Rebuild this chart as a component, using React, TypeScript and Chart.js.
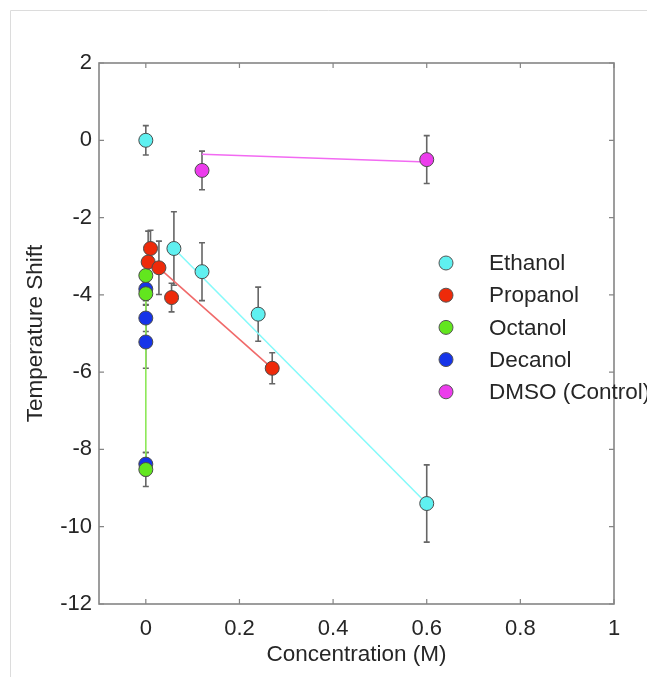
import React, { useEffect, useRef } from "react";
import { Chart, registerables } from "chart.js";

Chart.register(...registerables);

// ---- data ----
const xTicks = [0, 0.2, 0.4, 0.6, 0.8, 1];
const yTicks = [2, 0, -2, -4, -6, -8, -10, -12];

const ethanolX = [0, 0.06, 0.12, 0.24, 0.6];
const ethanolY = [0, -2.8, -3.4, -4.5, -9.4];
const ethanolErr = [0.38, 0.95, 0.75, 0.7, 1.0];
const ethanolFitX = [0.06, 0.6];
const ethanolFitY = [-2.8, -9.4];

const propanolX = [0.01, 0.005, 0.028, 0.055, 0.27];
const propanolY = [-2.8, -3.15, -3.3, -4.07, -5.9];
const propanolErr = [0.47, 0.8, 0.69, 0.37, 0.4];
const propanolFitX = [0.028, 0.27];
const propanolFitY = [-3.3, -5.9];

const octanolX = [0, 0, 0];
const octanolY = [-3.5, -3.97, -8.52];
const octanolErr = [0.3, 0.3, 0.44];
const octanolFitX = [0, 0];
const octanolFitY = [-3.5, -8.5];

const decanolX = [0, 0, 0, 0];
const decanolY = [-3.85, -4.6, -5.22, -8.38];
const decanolErr = [0.3, 0.35, 0.68, 0.3];

const dmsoX = [0.12, 0.6];
const dmsoY = [-0.78, -0.5];
const dmsoErr = [0.5, 0.62];
const dmsoFitX = [0.12, 0.6];
const dmsoFitY = [-0.36, -0.56];

const seriesNames = ["Ethanol", "Propanol", "Octanol", "Decanol", "DMSO (Control)"];

const FONT = '"Liberation Sans", Arial, Helvetica, sans-serif';

const toPts = (xs: number[], ys: number[]) => xs.map((x, i) => ({ x, y: ys[i] }));

const decorPlugin = {
  id: "decor",
  beforeDraw(chart: any) {
    const { ctx, width, height } = chart;
    ctx.save();
    ctx.strokeStyle = "#dcdcdc";
    ctx.lineWidth = 1;
    ctx.beginPath();
    ctx.moveTo(10.5, height);
    ctx.lineTo(10.5, 10.5);
    ctx.lineTo(width, 10.5);
    ctx.stroke();
    ctx.restore();
  },
  beforeDatasetsDraw(chart: any) {
    const { ctx, scales } = chart;
    const xs = scales.x;
    const ys = scales.y;
    ctx.save();
    ctx.strokeStyle = "#666666";
    ctx.lineWidth = 1.6;
    chart.data.datasets.forEach((ds: any) => {
      if (!ds.errors) return;
      ds.data.forEach((p: any, i: number) => {
        const e = ds.errors[i];
        const px = xs.getPixelForValue(p.x);
        const y1 = ys.getPixelForValue(p.y + e);
        const y2 = ys.getPixelForValue(p.y - e);
        ctx.beginPath();
        ctx.moveTo(px, y1);
        ctx.lineTo(px, y2);
        ctx.moveTo(px - 3, y1);
        ctx.lineTo(px + 3, y1);
        ctx.moveTo(px - 3, y2);
        ctx.lineTo(px + 3, y2);
        ctx.stroke();
      });
    });
    ctx.restore();
  },
  afterDatasetsDraw(chart: any) {
    const { ctx, chartArea: a, scales } = chart;
    ctx.save();
    // axes box
    ctx.strokeStyle = "#858585";
    ctx.lineWidth = 1.6;
    ctx.strokeRect(a.left, a.top, a.right - a.left, a.bottom - a.top);
    // inward ticks
    const tl = 5;
    ctx.lineWidth = 1.2;
    ctx.beginPath();
    scales.x.ticks.forEach((t: any) => {
      const px = scales.x.getPixelForValue(t.value);
      ctx.moveTo(px, a.bottom);
      ctx.lineTo(px, a.bottom - tl);
      ctx.moveTo(px, a.top);
      ctx.lineTo(px, a.top + tl);
    });
    scales.y.ticks.forEach((t: any) => {
      const py = scales.y.getPixelForValue(t.value);
      ctx.moveTo(a.left, py);
      ctx.lineTo(a.left + tl, py);
      ctx.moveTo(a.right, py);
      ctx.lineTo(a.right - tl, py);
    });
    ctx.stroke();

    // legend
    const legendItems = chart.data.datasets.filter((d: any) => d.legendLabel);
    legendItems.sort((p: any, q: any) => p.legendIndex - q.legendIndex);
    const mx = a.left + 347;
    let my = a.top + 200;
    ctx.font = `22.5px ${FONT}`;
    ctx.textBaseline = "middle";
    ctx.textAlign = "left";
    legendItems.forEach((d: any) => {
      ctx.beginPath();
      ctx.arc(mx, my, 7, 0, Math.PI * 2);
      ctx.fillStyle = d.backgroundColor;
      ctx.fill();
      ctx.strokeStyle = "#555";
      ctx.lineWidth = 1;
      ctx.stroke();
      ctx.fillStyle = "#262626";
      ctx.fillText(d.legendLabel, mx + 43, my + 1);
      my += 32.2;
    });
    ctx.restore();
  },
};

const pointDs = (
  label: string,
  legendIndex: number,
  xs: number[],
  ys: number[],
  errs: number[],
  color: string,
  order: number
) => ({
  type: "scatter" as const,
  label,
  legendLabel: label,
  legendIndex,
  data: toPts(xs, ys),
  errors: errs,
  backgroundColor: color,
  borderColor: "#4a4a4a",
  borderWidth: 1,
  pointRadius: 7,
  showLine: false,
  order,
});

const fitDs = (xs: number[], ys: number[], color: string) => ({
  type: "scatter" as const,
  label: "fit",
  data: toPts(xs, ys),
  showLine: true,
  borderColor: color,
  backgroundColor: color,
  borderWidth: 1.6,
  pointRadius: 0,
  order: 20,
});

export default function App() {
  const ref = useRef<HTMLCanvasElement | null>(null);

  useEffect(() => {
    document.body.style.margin = "0";
    const canvas = ref.current;
    if (!canvas) return;
    const chart = new Chart(canvas, {
      type: "scatter",
      data: {
        datasets: [
          fitDs(ethanolFitX, ethanolFitY, "#86fafa"),
          fitDs(propanolFitX, propanolFitY, "#f06a6a"),
          fitDs(octanolFitX, octanolFitY, "#8ee85a"),
          fitDs(dmsoFitX, dmsoFitY, "#f26af2"),
          pointDs(seriesNames[0], 0, ethanolX, ethanolY, ethanolErr, "#5ff0f0", 1),
          pointDs(seriesNames[1], 1, propanolX, propanolY, propanolErr, "#ee2a0a", 2),
          pointDs(seriesNames[2], 2, octanolX, octanolY, octanolErr, "#62e61e", 3),
          pointDs(seriesNames[3], 3, decanolX, decanolY, decanolErr, "#1634e8", 4),
          pointDs(seriesNames[4], 4, dmsoX, dmsoY, dmsoErr, "#ec3cec", 0),
        ] as any,
      },
      options: {
        animation: false,
        responsive: false,
        devicePixelRatio: 1,
        layout: { padding: { left: 0, top: 63, right: 33, bottom: 0 } },
        plugins: {
          legend: { display: false },
          tooltip: { enabled: false },
        },
        scales: {
          x: {
            type: "linear",
            min: -0.1,
            max: 1,
            afterBuildTicks: (s: any) => {
              s.ticks = xTicks.map((v) => ({ value: v }));
            },
            afterFit: (s: any) => {
              s.height = 73;
            },
            grid: { display: false, drawTicks: false },
            border: { display: false },
            ticks: {
              font: { family: FONT, size: 22 },
              color: "#262626",
              padding: 12,
              maxRotation: 0,
              callback: (v: any) => String(v),
            },
            title: {
              display: true,
              text: "Concentration (M)",
              font: { family: FONT, size: 22.5 },
              color: "#262626",
              padding: { top: 0, bottom: 8.5 },
            },
          },
          y: {
            type: "linear",
            min: -12,
            max: 2,
            afterBuildTicks: (s: any) => {
              s.ticks = yTicks.map((v) => ({ value: v }));
            },
            afterFit: (s: any) => {
              s.width = 99;
            },
            grid: { display: false, drawTicks: false },
            border: { display: false },
            ticks: {
              font: { family: FONT, size: 22 },
              color: "#262626",
              padding: 7,
              callback: (v: any) => String(v),
            },
            title: {
              display: true,
              text: "Temperature Shift",
              font: { family: FONT, size: 22.5 },
              color: "#262626",
              padding: { top: 22.5, bottom: 0 },
            },
          },
        },
      },
      plugins: [decorPlugin],
    });
    return () => chart.destroy();
  }, []);

  return (
    <div style={{ width: 647, height: 677, position: "relative" }}>
      <canvas ref={ref} width={647} height={677} style={{ display: "block", width: 647, height: 677 }} />
    </div>
  );
}
